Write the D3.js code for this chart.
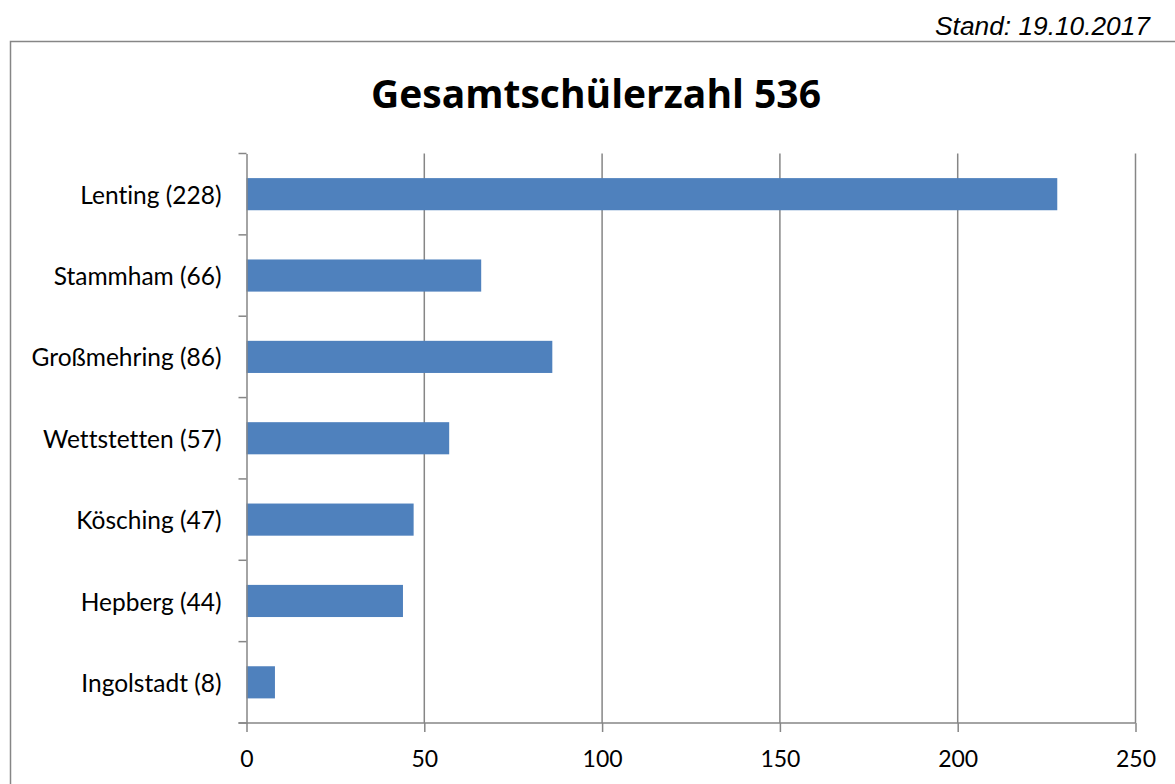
<!DOCTYPE html>
<html>
<head>
<meta charset="utf-8">
<script src="https://cdn.jsdelivr.net/npm/d3@7"></script>
<style>
  body { margin: 0; background: #fff; }
  svg { display: block; }
  text { font-variant-ligatures: none; }
</style>
</head>
<body>
<svg id="chart"></svg>
<script>
// Data
var categories = ["Lenting (228)", "Stammham (66)", "Großmehring (86)", "Wettstetten (57)", "Kösching (47)", "Hepberg (44)", "Ingolstadt (8)"];
var values = [228, 66, 86, 57, 47, 44, 8];
var xTicks = [0, 50, 100, 150, 200, 250];

var width = 1175,
    height = 784;

var margin = {left: 246.5, right: 39.5, top: 153.5, bottom: 61};

var svg = d3.select("#chart")
    .attr("width", width)
    .attr("height", height);

// Outer frame
svg.append("rect")
    .attr("x", 10.5)
    .attr("y", 41.5)
    .attr("width", 1200)
    .attr("height", 800)
    .attr("fill", "none")
    .attr("stroke", "#868686")
    .attr("stroke-width", 1.5);

// Stand label
svg.append("text")
    .attr("x", 1150)
    .attr("y", 35)
    .attr("text-anchor", "end")
    .style("font-family", "'Liberation Sans', Arial, sans-serif")
    .style("font-style", "italic")
    .style("font-size", "26.3px")
    .text("Stand: 19.10.2017");

// Title
svg.append("text")
    .attr("x", 596)
    .attr("y", 108)
    .attr("text-anchor", "middle")
    .style("font-family", "'Open Sans', Lato, sans-serif")
    .style("font-weight", "bold")
    .style("font-size", "39px")
    .text("Gesamtschülerzahl 536");

// Scales
var x = d3.scaleLinear()
    .domain([0, 250])
    .range([margin.left, width - margin.right]);

var y = d3.scaleBand()
    .domain(categories)
    .range([margin.top, height - margin.bottom])
    .paddingInner(0.605)
    .paddingOuter(0.3025);

var yBand = d3.scaleBand()
    .domain(categories)
    .range([margin.top, height - margin.bottom]);

var plotBottom = height - margin.bottom;

// Vertical gridlines
svg.append("g")
    .selectAll("line")
    .data(xTicks.slice(1))
    .enter().append("line")
    .attr("x1", function (d) { return x(d); })
    .attr("x2", function (d) { return x(d); })
    .attr("y1", margin.top)
    .attr("y2", plotBottom)
    .attr("stroke", "#868686")
    .attr("stroke-width", 1.5);

// Bars
svg.append("g")
    .selectAll("rect")
    .data(values)
    .enter().append("rect")
    .attr("x", x(0))
    .attr("y", function (d, i) { return y(categories[i]); })
    .attr("width", function (d) { return x(d) - x(0); })
    .attr("height", y.bandwidth())
    .attr("fill", "#4F81BD");

// Y axis
var yAxis = d3.axisLeft(yBand).tickSize(0).tickPadding(25);
var gy = svg.append("g")
    .attr("transform", "translate(" + x(0) + ",0)")
    .call(yAxis);
gy.select(".domain").attr("stroke", "#868686").attr("stroke-width", 1.5);
gy.selectAll("text")
    .attr("dy", "0.39em")
    .style("font-family", "Lato, 'Open Sans', sans-serif")
    .style("font-size", "24.5px")
    .attr("fill", "#000");

// y tick marks at band boundaries
svg.append("g")
    .selectAll("line")
    .data(categories.concat(["end"]))
    .enter().append("line")
    .attr("x1", x(0) - 8)
    .attr("x2", x(0))
    .attr("y1", function (d, i) { return margin.top + i * yBand.step(); })
    .attr("y2", function (d, i) { return margin.top + i * yBand.step(); })
    .attr("stroke", "#868686")
    .attr("stroke-width", 1.5);

// X axis
var xAxis = d3.axisBottom(x).tickValues(xTicks).tickSize(9).tickPadding(0);
var gx = svg.append("g")
    .attr("transform", "translate(0," + plotBottom + ")")
    .call(xAxis);
gx.select(".domain").attr("d", "M" + (x(0) - 8) + ",0H" + x(250)).attr("stroke", "#868686").attr("stroke-width", 1.5);
gx.selectAll(".tick line").attr("stroke", "#868686").attr("stroke-width", 1.5);
gx.selectAll("text")
    .attr("y", 44)
    .attr("dy", 0)
    .style("font-family", "Lato, 'Open Sans', sans-serif")
    .style("font-size", "23px")
    .attr("fill", "#000");
</script>
</body>
</html>
